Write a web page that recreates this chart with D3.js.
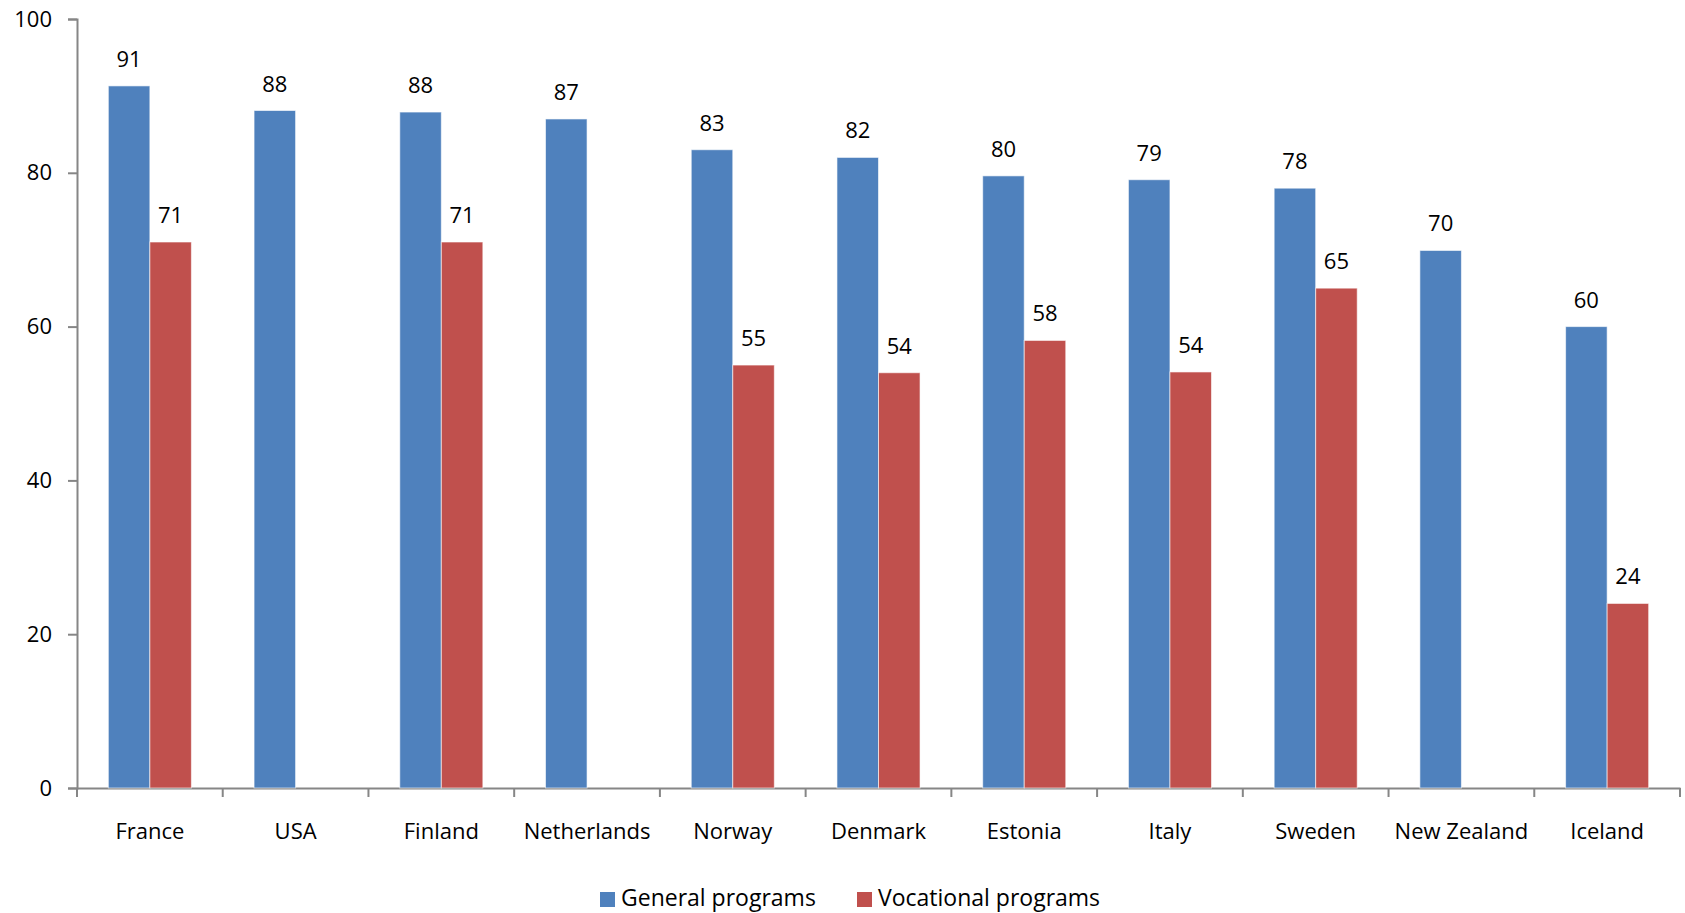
<!DOCTYPE html>
<html>
<head>
<meta charset="utf-8">
<script src="https://cdn.jsdelivr.net/npm/d3@7"></script>
<style>
  body { margin: 0; background: #fff; }
  svg text { font-family: "Open Sans", sans-serif; fill: #000; }
</style>
</head>
<body>
<div id="chart"></div>
<script>
var countries = ["France", "USA", "Finland", "Netherlands", "Norway", "Denmark",
                 "Estonia", "Italy", "Sweden", "New Zealand", "Iceland"];
// null = no bar for that country
var generalPrograms = [91.3, 88.1, 87.9, 87, 83, 82, 79.6, 79.1, 78, 69.9, 60];
var vocationalPrograms = [71, null, 71, null, 55, 54, 58.2, 54.1, 65, null, 24];
var seriesNames = ["General programs", "Vocational programs"];
var seriesColors = ["#4F81BD", "#C0504D"];
var yTicks = [0, 20, 40, 60, 80, 100];

var width = 1685, height = 913;
var margin = {top: 19, right: 5, bottom: 125, left: 77};
var fontSize = "22px";

var svg = d3.select("#chart").append("svg")
  .attr("width", width)
  .attr("height", height);

var x = d3.scaleBand()
  .domain(countries)
  .range([margin.left, width - margin.right]);

var y = d3.scaleLinear()
  .domain([0, 100])
  .range([height - margin.bottom, margin.top]);

var barWidth = x.bandwidth() * 0.285;

// y axis
var yAxis = svg.append("g")
  .attr("transform", "translate(" + margin.left + ",0)")
  .call(d3.axisLeft(y).tickValues(yTicks).tickSize(9).tickPadding(16));
yAxis.selectAll("text").style("font-size", fontSize);

// x axis
var xAxis = svg.append("g")
  .attr("transform", "translate(0," + y(0) + ")")
  .call(d3.axisBottom(x).tickSize(0).tickPadding(35));
xAxis.selectAll("text").style("font-size", fontSize);
xAxis.selectAll(".cat-tick")
  .data(countries.concat([null]))
  .enter()
  .append("line")
  .attr("class", "cat-tick")
  .attr("x1", function(d, i) { return margin.left + i * x.step(); })
  .attr("x2", function(d, i) { return margin.left + i * x.step(); })
  .attr("y1", 0)
  .attr("y2", 9);

svg.selectAll(".domain, .tick line, .cat-tick")
  .attr("stroke", "#868686")
  .attr("stroke-width", 2);

var series = [generalPrograms, vocationalPrograms];

series.forEach(function(values, s) {
  var data = countries.map(function(c, i) { return {country: c, value: values[i]}; })
    .filter(function(d) { return d.value !== null; });
  var offset = s === 0 ? -barWidth : 0;

  svg.append("g")
    .selectAll("rect")
    .data(data)
    .enter()
    .append("rect")
    .attr("x", function(d) { return x(d.country) + x.bandwidth() / 2 + offset; })
    .attr("y", function(d) { return y(d.value); })
    .attr("width", barWidth)
    .attr("height", function(d) { return y(0) - y(d.value); })
    .attr("fill", seriesColors[s])
    .attr("stroke", "rgba(255,255,255,0.6)")
    .attr("stroke-width", 1);

  svg.append("g")
    .selectAll("text")
    .data(data)
    .enter()
    .append("text")
    .attr("x", function(d) { return x(d.country) + x.bandwidth() / 2 + offset + barWidth / 2; })
    .attr("y", function(d) { return y(d.value) - 19; })
    .attr("text-anchor", "middle")
    .style("font-size", fontSize)
    .text(function(d) { return Math.round(d.value); });
});

// legend
var legendX = [600, 857];
var legend = svg.append("g");
seriesNames.forEach(function(name, i) {
  legend.append("rect")
    .attr("x", legendX[i])
    .attr("y", 892)
    .attr("width", 15)
    .attr("height", 15)
    .attr("fill", seriesColors[i]);
  legend.append("text")
    .attr("x", legendX[i] + 21)
    .attr("y", 906)
    .style("font-size", "23px")
    .text(name);
});
</script>
</body>
</html>
